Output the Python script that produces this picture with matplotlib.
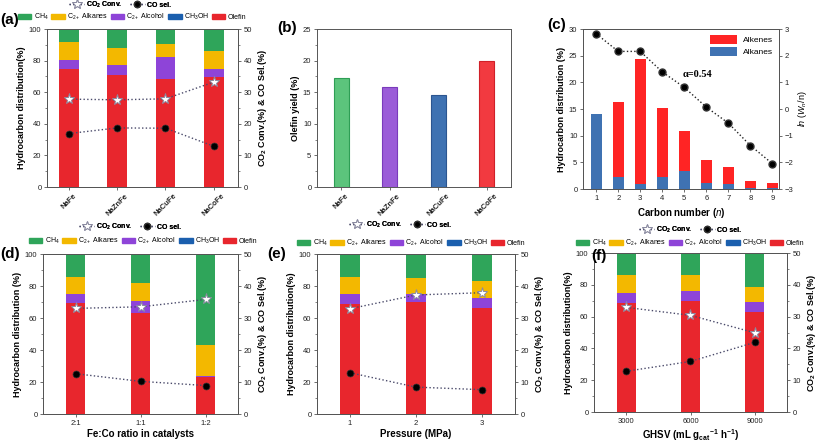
import numpy as np
import matplotlib.pyplot as plt
from matplotlib.patches import Patch
from matplotlib.lines import Line2D
from matplotlib.ticker import MultipleLocator

plt.rcParams['font.family'] = ['Liberation Sans', 'DejaVu Sans']
plt.rcParams['mathtext.fontset'] = 'custom'
plt.rcParams['mathtext.rm'] = 'Liberation Sans'
plt.rcParams['mathtext.it'] = 'Liberation Sans:italic'
plt.rcParams['mathtext.bf'] = 'Liberation Sans:bold'
plt.rcParams['axes.edgecolor'] = '#555555'
plt.rcParams['xtick.color'] = '#555555'
plt.rcParams['ytick.color'] = '#555555'
plt.rcParams['xtick.labelcolor'] = '#222222'
plt.rcParams['ytick.labelcolor'] = '#222222'

# (a) promoters
cats_a = ['NaFe', 'NaZnFe', 'NaCuFe', 'NaCoFe']
olefin_a = [75.0, 71.1, 68.6, 69.4]
alcohol_a = [5.6, 6.3, 13.5, 5.5]
alkanes_a = [11.2, 10.6, 8.6, 11.4]
ch4_a = [7.9, 11.7, 9.0, 13.4]
ch3oh_a = [0.3, 0.3, 0.3, 0.3]
conv_a = [27.8, 27.6, 27.9, 33.2]
cosel_a = [16.9, 18.7, 18.6, 12.9]

# (b) olefin yield
yield_b = [17.2, 15.8, 14.6, 20.0]

# (c) ASF distribution
carbon_n = [1, 2, 3, 4, 5, 6, 7, 8, 9]
alkanes_c = [14.0, 2.3, 0.9, 2.3, 3.3, 1.2, 1.0, 0.1, 0.1]
alkenes_c = [0.0, 14.1, 23.5, 12.8, 7.5, 4.3, 3.1, 1.4, 1.0]
ln_wn = [2.82, 2.16, 2.16, 1.39, 0.81, 0.07, -0.53, -1.37, -2.05]

# (d) Fe:Co ratio
cats_d = ['2:1', '1:1', '1:2']
olefin_d = [69.1, 63.3, 23.2]
alcohol_d = [5.6, 7.5, 0.8]
alkanes_d = [11.1, 11.2, 19.0]
ch4_d = [13.9, 17.7, 56.5]
ch3oh_d = [0.3, 0.3, 0.5]
conv_d = [33.0, 33.5, 35.8]
cosel_d = [12.6, 10.2, 8.9]

# (e) pressure
cats_e = ['1', '2', '3']
olefin_e = [69.0, 70.0, 66.5]
alcohol_e = [5.8, 4.8, 5.8]
alkanes_e = [10.8, 10.0, 10.6]
ch4_e = [14.1, 14.9, 16.8]
ch3oh_e = [0.3, 0.3, 0.3]
conv_e = [32.9, 37.2, 37.9]
cosel_e = [12.9, 8.4, 7.6]

# (f) GHSV
cats_f = ['3000', '6000', '9000']
olefin_f = [68.8, 69.5, 63.2]
alcohol_f = [5.9, 6.3, 6.1]
alkanes_f = [11.2, 10.1, 9.6]
ch4_f = [13.8, 13.8, 20.8]
ch3oh_f = [0.3, 0.3, 0.3]
conv_f = [32.9, 30.4, 24.9]
cosel_f = [12.8, 15.9, 21.9]

C_CH4 = '#2fa55a'
C_ALK = '#f3b800'
C_ALC = '#8e44d8'
C_MEOH = '#1b5fae'
C_OLE = '#e8262d'
LINE_C = '#4a4a6a'

W, H = 817, 444
fig = plt.figure(figsize=(W / 100, H / 100), dpi=100)


def px_axes(l, t, r, b):
    return fig.add_axes([l / W, 1 - b / H, (r - l) / W, (b - t) / H])


def style(ax, fs=5.5):
    ax.tick_params(labelsize=fs, length=2.5, width=0.6, pad=1.5)
    ax.tick_params(which='minor', length=1.5, width=0.5)
    for s in ax.spines.values():
        s.set_linewidth(0.7)


def stacked(ax, cats, ole, alc, alk, ch4, meoh, conv, cosel, width, xlim, leg_y, leg_x, ylab, rot=0):
    x = np.arange(len(cats))
    bot = np.zeros(len(cats))
    for vals, c in [(ole, C_OLE), (alc, C_ALC), (alk, C_ALK), (ch4, C_CH4), (meoh, C_MEOH)]:
        ax.bar(x, vals, width, bottom=bot, color=c, edgecolor='none')
        bot += np.array(vals)
    ax.set_ylim(0, 100)
    ax.set_xlim(*xlim)
    ax.yaxis.set_major_locator(MultipleLocator(20))
    ax.yaxis.set_minor_locator(MultipleLocator(10))
    ax.set_xticks(x)
    if rot:
        ax.set_xticklabels(cats, rotation=rot, fontweight='bold', ha='center')
    else:
        ax.set_xticklabels(cats)
    ax.set_ylabel(ylab, fontsize=6.5, fontweight='bold', labelpad=2)
    style(ax)
    ax2 = ax.twinx()
    ax2.set_ylim(0, 50)
    ax2.yaxis.set_major_locator(MultipleLocator(10))
    ax2.yaxis.set_minor_locator(MultipleLocator(5))
    ax2.plot(x, conv, ls=':', color=LINE_C, lw=1, marker='*', ms=8,
             mfc='white', mec='#8a8aa0', mew=0.7)
    ax2.plot(x, cosel, ls=':', color=LINE_C, lw=1, marker='o', ms=5,
             mfc='black', mec='#333333', mew=0.5)
    ax2.set_ylabel('CO$_\\mathbf{2}$ Conv.(%) & CO Sel.(%)', fontsize=6.5, fontweight='bold', labelpad=3)
    style(ax2)
    h1 = [Line2D([], [], ls=':', color=LINE_C, lw=1, marker='*', ms=7, mfc='white', mec='#8a8aa0', mew=0.7),
          Line2D([], [], ls=':', color=LINE_C, lw=1, marker='o', ms=4.5, mfc='black', mec='#333333')]
    l1 = ax2.legend(h1, ['CO$_\\mathbf{2}$ Conv.', 'CO sel.'], ncol=2, loc='center',
                    bbox_to_anchor=(leg_x[0] / W, 1 - leg_y[0] / H), bbox_transform=fig.transFigure,
                    frameon=False, fontsize=5, handlelength=2.2, columnspacing=1.0, handletextpad=0.3,
                    borderpad=0)
    for t in l1.get_texts():
        t.set_fontweight('bold')
    h2 = [Patch(color=C_CH4), Patch(color=C_ALK), Patch(color=C_ALC), Patch(color=C_MEOH), Patch(color=C_OLE)]
    fig.legend(h2, ['CH$_4$', 'C$_{2+}$ Alkanes', 'C$_{2+}$ Alcohol', 'CH$_3$OH', 'Olefin'], ncol=5,
               loc='center', bbox_to_anchor=(leg_x[1] / W, 1 - leg_y[1] / H), frameon=False,
               fontsize=5, handlelength=1.9, handleheight=0.9, columnspacing=0.45, handletextpad=0.3,
               borderpad=0)
    ax2.add_artist(l1)
    return ax2


# (a)
axa = px_axes(47, 29, 238, 187)
stacked(axa, cats_a, olefin_a, alcohol_a, alkanes_a, ch4_a, ch3oh_a, conv_a, cosel_a,
        0.41, (-0.45, 3.5), (5, 17), (120, 132), 'Hydrocarbon distribution(%)', rot=45)

# (b)
axb = px_axes(317, 29, 511, 187)
xb = np.arange(len(cats_a))
axb.bar(xb, yield_b, 0.31, color=['#5cc47c', '#9b5cd8', '#3f72b2', '#f23a40'],
        edgecolor=['#2e9e55', '#7a3bbb', '#2c5590', '#d02028'], linewidth=0.8)
axb.set_xlim(-0.5, 3.5)
axb.set_ylim(0, 25)
axb.yaxis.set_major_locator(MultipleLocator(5))
axb.yaxis.set_minor_locator(MultipleLocator(2.5))
axb.set_xticks(xb)
axb.set_xticklabels(cats_a, rotation=45, fontweight='bold')
axb.set_ylabel('Olefin yield (%)', fontsize=6.5, fontweight='bold', labelpad=2)
style(axb)

# (c)
axc = px_axes(583, 29, 779, 189)
axc.bar(carbon_n, alkanes_c, 0.5, color='#3f72b2', label='Alkanes')
axc.bar(carbon_n, alkenes_c, 0.5, bottom=alkanes_c, color='#ff2424', label='Alkenes')
axc.set_xlim(0.4, 9.3)
axc.set_ylim(0, 30)
axc.set_xticks(carbon_n)
axc.yaxis.set_major_locator(MultipleLocator(5))
axc.set_ylabel('Hydrocarbon distribution (%)', fontsize=6.5, fontweight='bold', labelpad=2)
axc.set_xlabel('Carbon number ($\\mathit{n}$)', fontsize=7, fontweight='bold', labelpad=3)
style(axc)
hc, lc = axc.get_legend_handles_labels()
axc.legend(hc[::-1], lc[::-1], loc='upper right', frameon=False, fontsize=6,
           handlelength=3.2, handleheight=1.3, borderaxespad=0.3, labelspacing=0.3)
axc2 = axc.twinx()
axc2.plot(carbon_n, ln_wn, ls=':', color='#222222', lw=1, marker='o', ms=5, mfc='black', mec='#333333')
axc2.set_ylim(-3, 3)
axc2.yaxis.set_major_locator(MultipleLocator(1))
axc2.set_ylabel('$ln$ ($W_n$/n)', fontsize=6.5, labelpad=2)
axc2.text(5.6, 1.28, '\u03b1=0.54', fontsize=7.5, fontweight='bold', family=['Liberation Serif', 'DejaVu Serif'],
          ha='center', va='center')
style(axc2)

# (d)
axd = px_axes(43, 254, 238, 414)
stacked(axd, cats_d, olefin_d, alcohol_d, alkanes_d, ch4_d, ch3oh_d, conv_d, cosel_d,
        0.3, (-0.5, 2.5), (227, 241), (130, 143), 'Hydrocarbon distribution (%)')
axd.set_xlabel('Fe:Co ratio in catalysts', fontsize=7, fontweight='bold', labelpad=2)

# (e)
axe = px_axes(317, 254, 515, 414)
stacked(axe, cats_e, olefin_e, alcohol_e, alkanes_e, ch4_e, ch3oh_e, conv_e, cosel_e,
        0.29, (-0.5, 2.5), (225, 243), (400, 411), 'Hydrocarbon distribution(%)')
axe.set_xlabel('Pressure (MPa)', fontsize=7, fontweight='bold', labelpad=2)

# (f)
axf = px_axes(594, 253, 787, 412)
stacked(axf, cats_f, olefin_f, alcohol_f, alkanes_f, ch4_f, ch3oh_f, conv_f, cosel_f,
        0.3, (-0.5, 2.5), (230, 243), (690, 690), 'Hydrocarbon distribution(%)')
axf.set_xlabel('GHSV (mL g$_{\\mathbf{cat}}$$^{\\mathbf{-1}}$ h$^{\\mathbf{-1}}$)', fontsize=7, fontweight='bold',
               labelpad=2)

for lab, xp, yp in [('(a)', 10, 20), ('(b)', 287, 28), ('(c)', 557, 25),
                    ('(d)', 10, 254), ('(e)', 277, 254), ('(f)', 599, 256)]:
    fig.text(xp / W, 1 - yp / H, lab, fontsize=11, fontweight='bold', ha='center', va='center')

fig.savefig('out.png', dpi=100)
